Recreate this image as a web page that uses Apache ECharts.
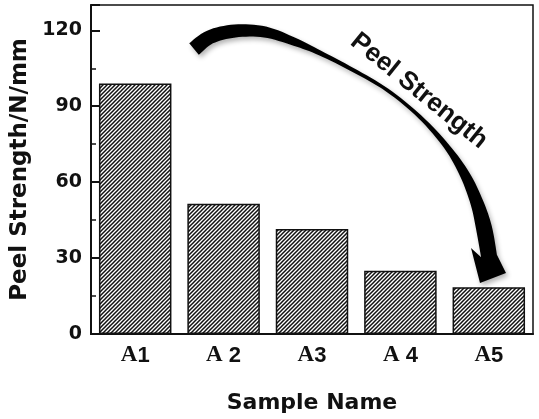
<!DOCTYPE html>
<html>
<head>
<meta charset="utf-8">
<script src="https://cdn.jsdelivr.net/npm/echarts@6/dist/echarts.min.js"></script>
<style>
  html, body { margin: 0; padding: 0; background: #fff; }
  #chart { width: 539px; height: 419px; }
</style>
</head>
<body>
<div id="chart"></div>
<script>
// data
const categories = ['A1', 'A 2', 'A3', 'A 4', 'A5'];
const peelStrength = [99, 51.5, 41.5, 25, 18.5];
const yTicks = [0, 30, 60, 90, 120];
const yMinorTicks = [15, 45, 75, 105];

// curved arrow annotation: spine points [x, y, width] in pixels
const arrowSpine = [
    [194, 49, 15], [210, 37, 14], [235, 31, 13], [265, 32, 11], [295, 42, 8],
    [320, 53, 5], [353, 70, 4], [387, 90, 3.5], [420, 117, 4], [447, 147, 6],
    [465, 175, 10], [477, 203, 13], [484, 228, 16], [489, 256, 16]
];
const arrowHead = [[506, 273], [480, 283], [471, 248]];

var myChart = echarts.init(document.getElementById('chart'));

// diagonal hatch
function hatch() {
    var c = document.createElement('canvas');
    c.width = 4;
    c.height = 4;
    var ctx = c.getContext('2d');
    ctx.fillStyle = '#fff';
    ctx.fillRect(0, 0, 4, 4);
    ctx.strokeStyle = '#111';
    ctx.lineWidth = 1.5;
    ctx.beginPath();
    ctx.moveTo(-1, 5); ctx.lineTo(5, -1);
    ctx.moveTo(-3, 3); ctx.lineTo(3, -3);
    ctx.moveTo(1, 7); ctx.lineTo(7, 1);
    ctx.stroke();
    return c;
}

function spline(pts, steps) {
    var out = [];
    for (var i = 0; i < pts.length - 1; i++) {
        var p0 = pts[i - 1] || pts[i], p1 = pts[i], p2 = pts[i + 1], p3 = pts[i + 2] || p2;
        for (var s = 0; s < steps; s++) {
            var t = s / steps, t2 = t * t, t3 = t2 * t;
            var q = [];
            for (var k = 0; k < 3; k++) {
                q.push(0.5 * (2 * p1[k] + (-p0[k] + p2[k]) * t +
                    (2 * p0[k] - 5 * p1[k] + 4 * p2[k] - p3[k]) * t2 +
                    (-p0[k] + 3 * p1[k] - 3 * p2[k] + p3[k]) * t3));
            }
            out.push(q);
        }
    }
    out.push(pts[pts.length - 1]);
    return out;
}

function arrowPoints() {
    var c = spline(arrowSpine, 8);
    var inner = [], outer = [];
    for (var i = 0; i < c.length; i++) {
        var a = c[Math.max(i - 1, 0)], b = c[Math.min(i + 1, c.length - 1)];
        var dx = b[0] - a[0], dy = b[1] - a[1];
        var len = Math.sqrt(dx * dx + dy * dy);
        var nx = -dy / len, ny = dx / len, h = c[i][2] / 2;
        inner.push([c[i][0] + nx * h, c[i][1] + ny * h]);
        outer.push([c[i][0] - nx * h, c[i][1] - ny * h]);
    }
    return outer.concat(arrowHead, inner.reverse());
}

var axisFont = 'DejaVu Sans';

var option = {
    backgroundColor: '#fff',
    animation: false,
    grid: {
        left: 91,
        right: 6,
        top: 5,
        bottom: 83,
        show: true,
        borderColor: '#111',
        borderWidth: 1.5
    },
    xAxis: {
        type: 'category',
        data: categories,
        name: 'Sample Name',
        nameLocation: 'middle',
        nameGap: 58,
        nameTextStyle: {
            fontFamily: axisFont,
            fontWeight: 'bold',
            fontSize: 22,
            color: '#111'
        },
        axisLine: { lineStyle: { color: '#111', width: 2 } },
        axisTick: { inside: true, length: 4, lineStyle: { color: '#111', width: 1.5 } },
        axisLabel: {
            margin: 10,
            formatter: function (v) {
                return '{a|' + v.charAt(0) + '}{b|' + v.slice(1) + '}';
            },
            rich: {
                a: { fontFamily: 'Liberation Serif', fontWeight: 'bold', fontSize: 23, color: '#111' },
                b: { fontFamily: 'Liberation Sans', fontWeight: 'bold', fontSize: 22, color: '#111' }
            }
        }
    },
    yAxis: [{
        type: 'value',
        min: 0,
        max: 130,
        interval: 30,
        name: 'Peel Strength/N/mm',
        nameLocation: 'middle',
        nameGap: 58,
        nameTextStyle: {
            fontFamily: axisFont,
            fontWeight: 'bold',
            fontSize: 23,
            color: '#111'
        },
        splitLine: { show: false },
        axisLine: { show: true, lineStyle: { color: '#111', width: 2 } },
        axisTick: {
            show: true,
            inside: true,
            length: 9,
            lineStyle: { color: '#111', width: 2 }
        },
        axisLabel: {
            customValues: yTicks,
            margin: 9,
            fontFamily: axisFont,
            fontWeight: 'bold',
            fontSize: 19,
            color: '#111'
        }
    }, {
        type: 'value',
        min: 0,
        max: 130,
        position: 'left',
        splitLine: { show: false },
        axisLine: { show: false },
        axisTick: {
            show: true,
            inside: true,
            length: 5,
            customValues: yMinorTicks,
            lineStyle: { color: '#111', width: 1.5 }
        },
        axisLabel: { show: false }
    }],
    series: [{
        type: 'bar',
        data: peelStrength,
        barWidth: '82%',
        itemStyle: {
            color: { image: hatch(), repeat: 'repeat' },
            borderColor: '#111',
            borderWidth: 1.5
        }
    }],
    graphic: [{
        type: 'polygon',
        shape: { points: arrowPoints() },
        style: {
            fill: '#000',
            shadowBlur: 5,
            shadowOffsetX: 2,
            shadowOffsetY: 3,
            shadowColor: 'rgba(0,0,0,0.3)'
        },
        z: 100
    }, {
        type: 'text',
        x: 419,
        y: 91,
        rotation: -39 * Math.PI / 180,
        style: {
            text: 'Peel Strength',
            x: 0,
            y: 0,
            align: 'center',
            verticalAlign: 'middle',
            font: 'bold 26px "Liberation Sans"',
            fill: '#111'
        },
        z: 100
    }]
};

option && myChart.setOption(option);
</script>
</body>
</html>
